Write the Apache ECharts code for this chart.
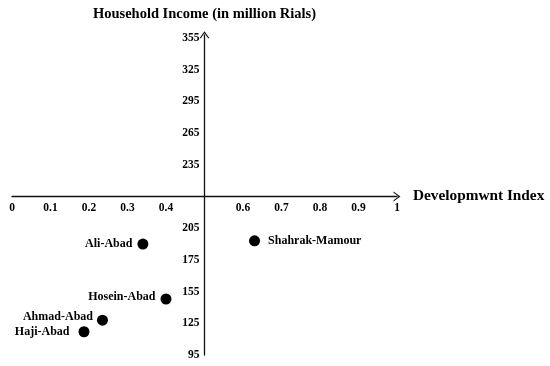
<!DOCTYPE html>
<html>
<head>
<meta charset="utf-8">
<script src="https://cdn.jsdelivr.net/npm/echarts@6/dist/echarts.min.js"></script>
<style>
html,body{margin:0;padding:0;background:#fff;}
#chart{width:550px;height:366px;}
</style>
</head>
<body>
<div id="chart"></div>
<script>
// ---- data ----
const villages = ['Ali-Abad', 'Shahrak-Mamour', 'Hosein-Abad', 'Ahmad-Abad', 'Haji-Abad'];
const developmentIndex = [0.34, 0.63, 0.40, 0.235, 0.187];
const householdIncome = [190, 193, 148, 128, 117];

const xTickLabels = ['0', '0.1', '0.2', '0.3', '0.4', '', '0.6', '0.7', '0.8', '0.9', '1'];
const yTickLabels = ['95', '125', '155', '175', '205', '', '235', '265', '295', '325', '355'];
// values at the evenly spaced y slots (middle slot = crossing of the axes)
const yTickValues = [95, 125, 155, 175, 205, 220, 235, 265, 295, 325, 355];

const xName = 'Developmwnt Index';
const yName = 'Household Income (in million Rials)';

// ---- helpers: convert to the axes' centred units ----
const X_CENTER = 0.5;
const X_MIN = -0.5, X_MAX = 0.5;
const Y_MIN = -5, Y_MAX = 5.1;
function incomeToSlot(v) {
  for (let i = 0; i < yTickValues.length - 1; i++) {
    const a = yTickValues[i], b = yTickValues[i + 1];
    if (v >= a && v <= b) return i + (v - a) / (b - a) - 5;
  }
  return v < yTickValues[0] ? -5 : 5;
}

const labelPlacement = {
  'Ali-Abad': { position: 'left', distance: 5 },
  'Shahrak-Mamour': { position: 'right', distance: 8 },
  'Hosein-Abad': { position: 'left', distance: 5, offset: [0, -2] },
  'Ahmad-Abad': { position: 'left', distance: 4, offset: [0, -3] },
  'Haji-Abad': { position: 'left', distance: 9 }
};

const seriesData = villages.map((name, i) => ({
  name: name,
  value: [developmentIndex[i] - X_CENTER, incomeToSlot(householdIncome[i])],
  label: labelPlacement[name]
}));

const FONT = "'Liberation Serif', 'Times New Roman', serif";
const arrowPath = 'path://M0,7 L5,0 L10,7 L8.7,7 L5,1.9 L1.3,7 Z';

const W = 550, H = 366;
const grid = { left: 12, right: 153, top: 34.8, bottom: 11 };
const gridW = W - grid.left - grid.right;
const gridH = H - grid.top - grid.bottom;
// shift the axes so they cross at zero of the other axis
const xAxisOffset = -gridH * (0 - Y_MIN) / (Y_MAX - Y_MIN);
const yAxisOffset = -gridW * (0 - X_MIN) / (X_MAX - X_MIN);

const chart = echarts.init(document.getElementById('chart'), null, { renderer: 'canvas' });
chart.setOption({
  animation: false,
  backgroundColor: '#ffffff',
  grid: Object.assign({ containLabel: false, outerBoundsMode: 'none' }, grid),
  xAxis: {
    type: 'value',
    position: 'bottom',
    offset: xAxisOffset,
    min: X_MIN, max: X_MAX, interval: 0.1,
    name: xName,
    nameLocation: 'end',
    nameGap: 16,
    nameTextStyle: { fontFamily: FONT, fontWeight: 'bold', fontSize: 15.3, color: '#000', verticalAlign: 'middle', align: 'left' },
    axisLine: { onZero: false, symbol: ['none', arrowPath], symbolSize: [10, 7], lineStyle: { color: '#111', width: 1.3 } },
    axisTick: { show: false },
    splitLine: { show: false },
    axisLabel: {
      margin: 6,
      fontFamily: FONT, fontWeight: 'bold', fontSize: 11.5, color: '#000',
      formatter: function (v) {
        const k = Math.round((v + X_CENTER) * 10);
        if (Math.abs((v + X_CENTER) * 10 - k) > 1e-6) return '';
        return xTickLabels[k] || '';
      }
    }
  },
  yAxis: {
    type: 'value',
    position: 'left',
    offset: yAxisOffset,
    min: Y_MIN, max: Y_MAX, interval: 1,
    name: yName,
    nameLocation: 'end',
    nameGap: 13,
    nameTextStyle: { fontFamily: FONT, fontWeight: 'bold', fontSize: 14.5, color: '#000' },
    axisLine: { onZero: false, symbol: ['none', arrowPath], symbolSize: [10, 7], lineStyle: { color: '#111', width: 1.3 } },
    axisTick: { show: false },
    splitLine: { show: false },
    axisLabel: {
      margin: 5,
      fontFamily: FONT, fontWeight: 'bold', fontSize: 11.5, color: '#000',
      formatter: function (v) {
        const k = Math.round(v);
        if (Math.abs(v - k) > 1e-6) return '';
        return yTickLabels[k + 5] || '';
      }
    }
  },
  series: [{
    type: 'scatter',
    symbol: 'circle',
    symbolSize: 11,
    itemStyle: { color: '#000', opacity: 1 },
    label: {
      show: true,
      formatter: '{b}',
      fontFamily: FONT, fontWeight: 'bold', fontSize: 12, color: '#000'
    },
    data: seriesData
  }]
});
</script>
</body>
</html>
